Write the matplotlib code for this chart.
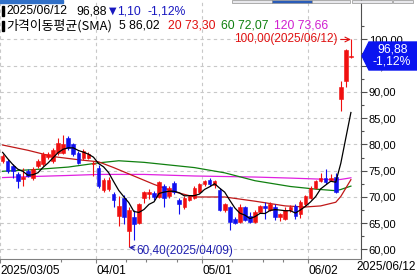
import numpy as np
import pandas as pd
import matplotlib
matplotlib.use('Agg')
import matplotlib.pyplot as plt
from matplotlib.patches import Polygon, Rectangle

W, H = 417, 276
NUM = ['Liberation Sans', 'DejaVu Sans']
KOR = ['Noto Sans CJK KR', 'DejaVu Sans']
RED = '#f01010'
BLUE = '#1010f0'

# daily candles, 2025/03/05 .. 2025/06/12
opens = [76.8, 76.8, 75.9, 74.3, 73.5, 74.9, 73.7, 75.9, 76.2, 77.7,
         76.8, 78.4, 78.4, 81.3, 80.0, 78.4, 77.5, 77.5, 76.3, 75.6,
         71.4, 71.6, 70.5, 66.3, 69.9, 63.5, 66.1, 65.1, 69.9, 70.5,
         70.8, 70.0, 72.0, 70.1, 72.6, 69.5, 68.0, 69.5, 69.9, 71.0,
         72.4, 73.3, 72.2, 71.4, 67.6, 68.0, 65.9, 65.3, 68.0, 66.3,
         65.3, 67.2, 68.2, 67.6, 68.0, 66.1, 65.9, 67.6, 68.2, 66.7,
         68.6, 69.9, 71.8, 73.0, 73.7, 73.3, 73.9, 88.6, 92.0, 96.6]
highs = [78.2, 77.2, 76.3, 74.8, 75.6, 75.3, 75.8, 77.2, 78.5, 78.5,
         79.4, 81.3, 81.9, 81.7, 80.3, 78.8, 79.1, 78.5, 76.8, 76.0,
         73.6, 73.8, 71.0, 70.1, 70.3, 68.0, 67.6, 68.9, 71.2, 71.6,
         71.2, 73.0, 72.4, 72.0, 73.0, 69.8, 70.2, 70.4, 72.0, 72.7,
         73.3, 73.6, 73.3, 71.8, 68.9, 68.3, 66.2, 68.6, 68.3, 67.2,
         67.5, 68.5, 69.1, 69.0, 68.6, 67.0, 68.0, 68.4, 68.6, 69.4,
         70.4, 72.0, 73.2, 74.6, 75.3, 74.3, 74.6, 92.1, 98.2, 100.0]
lows = [76.5, 74.5, 73.7, 71.8, 72.1, 73.8, 73.3, 75.6, 75.9, 77.3,
        76.5, 78.0, 78.2, 79.0, 77.8, 76.2, 77.1, 77.2, 74.0, 71.8,
        71.0, 71.2, 68.0, 64.4, 64.8, 60.4, 61.9, 64.9, 68.9, 69.6,
        69.4, 69.8, 68.0, 69.8, 70.5, 66.7, 67.7, 69.2, 69.6, 70.7,
        72.1, 72.1, 71.8, 67.3, 67.2, 63.8, 64.9, 65.1, 65.5, 65.1,
        65.1, 66.9, 65.8, 67.3, 65.7, 65.5, 65.6, 67.2, 65.9, 66.0,
        68.2, 69.6, 71.5, 72.8, 72.5, 73.0, 70.7, 86.3, 91.0, 96.4]
closes = [77.8, 74.9, 74.9, 73.0, 73.9, 74.0, 75.4, 76.8, 78.1, 78.1,
          79.0, 80.3, 80.0, 79.4, 78.1, 76.5, 78.7, 78.1, 76.5, 72.1,
          73.3, 73.2, 69.5, 68.2, 66.1, 67.6, 64.8, 68.6, 71.0, 71.0,
          70.0, 72.8, 69.9, 71.8, 70.9, 68.6, 69.9, 70.1, 71.8, 72.4,
          73.0, 72.4, 73.0, 67.6, 68.6, 65.3, 65.1, 68.0, 65.7, 65.3,
          67.2, 68.2, 67.9, 68.6, 66.1, 66.7, 67.6, 68.0, 66.3, 69.1,
          70.1, 71.8, 73.0, 73.7, 72.8, 73.7, 70.9, 91.0, 97.98, 96.88]

# 5-day average for the first days (needs earlier closes)
sma5_head = [78.5, 77.3, 76.2, 75.3]

# longer moving averages (candle index, value)
ma20_idx = [0, 5, 10, 15, 19, 22, 26, 30, 34, 38, 44, 50, 56, 60, 63, 66, 67, 68, 69]
ma20_val = [79.9, 78.9, 77.7, 77.1, 76.7, 75.6, 74.0, 72.4, 71.0, 70.0, 70.0, 69.2,
            68.3, 68.1, 68.3, 69.0, 70.1, 71.7, 73.3]
ma60_idx = [0, 6, 13, 19, 23, 28, 38, 44, 50, 57, 62, 66, 67, 68, 69]
ma60_val = [74.9, 75.2, 75.7, 76.5, 76.9, 76.6, 75.6, 74.6, 73.1, 72.0, 71.5, 71.2,
            71.43, 71.76, 72.07]
ma120_idx = [0, 6, 13, 19, 28, 38, 50, 57, 63, 66, 67, 68, 69]
ma120_val = [73.7, 73.9, 74.1, 74.3, 74.3, 74.0, 73.8, 73.6, 73.4, 73.25, 73.35, 73.5, 73.66]

xtick_pos = [-0.5, 18.5, 39.5, 60.5]
xtick_lbl = ['2025/03/05', '04/01', '05/01', '06/02']
xminor_pos = [11.5, 24.5, 28.5, 34.5, 45.5, 51.5, 55.5]


def px(x, y):
    # pixel position -> figure fraction
    return x / W, 1 - y / H


o = np.array(opens)
h = np.array(highs)
l = np.array(lows)
c = np.array(closes)
x = np.arange(len(c))
col = np.where(c >= o, RED, BLUE)

sma5 = pd.Series(c).rolling(5).mean().to_numpy()
sma5[:4] = sma5_head

fig = plt.figure(figsize=(W / 100, H / 100), dpi=100)
ax = fig.add_axes([0, 17 / H, 361 / W, 259 / H])

ax.vlines(x, l, h, colors=col, lw=0.8, zorder=3)
body = np.maximum(np.abs(c - o), 0.2)
ax.bar(x, body, bottom=np.minimum(o, c), width=0.72, color=col,
       edgecolor=col, linewidth=0.4, zorder=4)

ax.plot(ma120_idx, ma120_val, color='#e020e0', lw=0.9, zorder=2)
ax.plot(ma60_idx, ma60_val, color='#108010', lw=0.9, zorder=2)
ax.plot(ma20_idx, ma20_val, color='#c01818', lw=0.9, zorder=2)
ax.plot(x, sma5, color='black', lw=0.9, zorder=5)

ax.set_xlim(-0.52, 71.0)
ax.set_ylim(58.19, 107.52)

# axes
for s in ['left', 'top']:
    ax.spines[s].set_visible(False)
ax.spines['right'].set_color('#505050')
ax.spines['bottom'].set_color('#808080')
ax.yaxis.tick_right()
ax.set_yticks(np.arange(60, 101, 5))
ax.set_yticks(np.arange(62.5, 106, 5), minor=True)
ax.set_yticklabels([f'{v:.2f}'.replace('.', ',') for v in np.arange(60, 101, 5)])
ax.tick_params(axis='y', which='major', direction='out', length=4, width=0.8,
               pad=1.5, labelsize=8, color='#505050')
ax.tick_params(axis='y', which='minor', direction='out', length=2, width=0.8,
               color='#505050')
ax.set_xticks(xtick_pos)
ax.set_xticklabels(xtick_lbl)
ax.set_xticks(xminor_pos, minor=True)
ax.tick_params(axis='x', which='major', direction='out', length=3, width=0.8, pad=1,
               labelsize=8.6, color='#808080')
ax.tick_params(axis='x', which='minor', direction='out', length=2, width=0.8,
               color='#808080')
for t in ax.get_xticklabels():
    t.set_ha('left')
    t.set_fontfamily(NUM)
for t in ax.get_yticklabels():
    t.set_fontfamily(NUM)
ax.grid(True, which='major', color='#c8c8c8', lw=0.8, linestyle=(0, (3, 3)), zorder=0)

# high / low notes
ax.annotate('100,00(2025/06/12)', xy=(69, 100.0), xytext=(-13, 0),
            textcoords='offset pixels', ha='right', va='center',
            color='#e01010', fontsize=8.5, family=NUM,
            arrowprops=dict(arrowstyle='->', color='#e01010', lw=0.8,
                            shrinkA=0, shrinkB=0))
ax.annotate('60,40(2025/04/09)', xy=(25, 60.4), xytext=(8, -4),
            textcoords='offset pixels', ha='left', va='center',
            color='#2020b0', fontsize=8.5, family=NUM,
            arrowprops=dict(arrowstyle='->', color='#2020b0', lw=0.8,
                            shrinkA=0, shrinkB=0))

# header lines
fig.patches.append(Rectangle(px(2, 16), 2.5 / W, 10 / H, transform=fig.transFigure,
                             color='black'))
fig.patches.append(Rectangle(px(2, 31), 2.5 / W, 10 / H, transform=fig.transFigure,
                             color='black'))
y1 = 11
fig.text(*px(6, y1), '2025/06/12', fontsize=8.7, family=NUM, va='center')
fig.text(*px(76, y1), '96,88', fontsize=8.7, family=NUM, va='center')
fig.text(*px(109, y1), '▼', fontsize=7, family='DejaVu Sans', va='center', color='#1818c0')
fig.text(*px(117, y1), '1,10', fontsize=8.7, family=NUM, va='center', color='#1818c0')
fig.text(*px(147, y1), '-1,12%', fontsize=8.7, family=NUM, va='center', color='#1818c0')
y2 = 26
fig.text(*px(6, y2), '가격이동평균(SMA)', fontsize=9.3, family=KOR, va='center')
fig.text(*px(119, y2), '5 86,02', fontsize=8.7, family=NUM, va='center')
fig.text(*px(168, y2), '20 73,30', fontsize=8.7, family=NUM, va='center', color='#e01010')
fig.text(*px(221, y2), '60 72,07', fontsize=8.7, family=NUM, va='center', color='#108010')
fig.text(*px(274, y2), '120 73,66', fontsize=8.7, family=NUM, va='center', color='#d020d0')

# current price tag (covers the 95,00 label as in the original)
tag = [(362, 56), (369, 42), (417, 42), (417, 70), (369, 70)]
fig.patches.append(Polygon([px(a, b) for a, b in tag], closed=True,
                           transform=fig.transFigure, color='#0a14f0', zorder=5))
fig.text(*px(393, 49), '96,88', fontsize=8.7, family=NUM, color='white',
         ha='center', va='center', zorder=6)
fig.text(*px(392, 62), '-1,12%', fontsize=8.7, family=NUM, color='white',
         ha='center', va='center', zorder=6)

fig.text(*px(416, 267), '2025/06/12', fontsize=8.6, family=NUM, ha='right', va='center')

# tool buttons at the top edge
fig.patches.append(Rectangle(px(0, 3), 63 / W, 3 / H, transform=fig.transFigure,
                             color='#3070c8'))
for a, b, fc in [(232, 272, '#e8e8ec'), (272, 312, '#2a5cb8'), (312, 350, '#e8e8ec'),
                 (352, 392, '#e8e8ec'), (393, 413, '#e8e8ec')]:
    fig.patches.append(Rectangle(px(a, 3), (b - a) / W, 3 / H, transform=fig.transFigure,
                                 facecolor=fc, edgecolor='#909090', lw=0.5))

fig.savefig('out.png', dpi=100)
